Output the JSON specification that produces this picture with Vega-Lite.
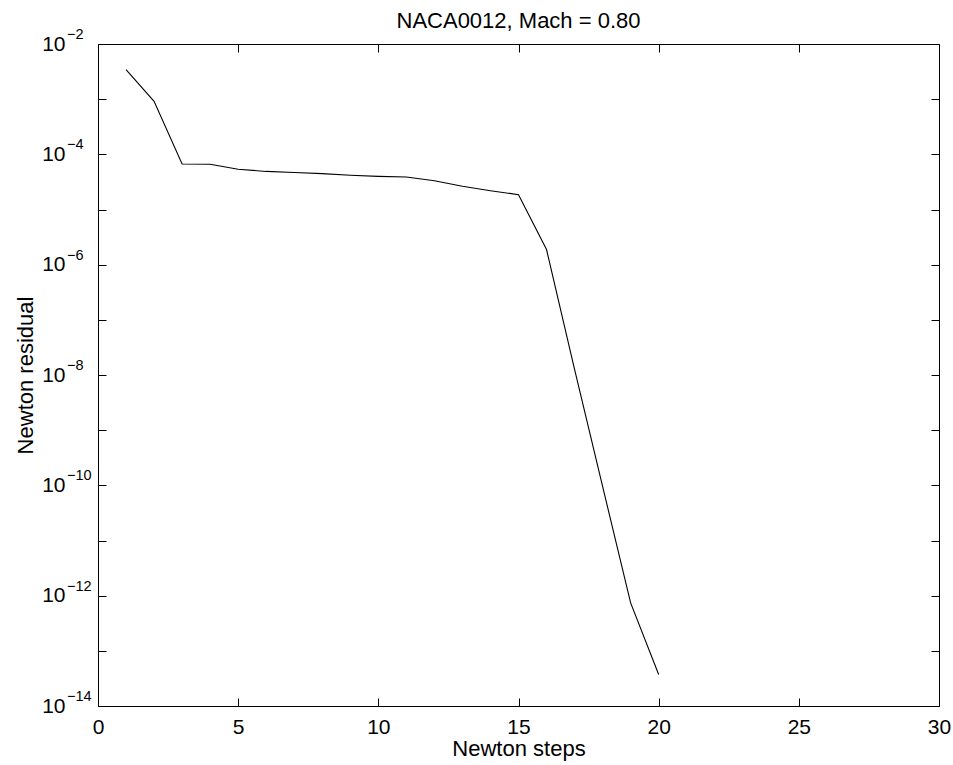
{
  "$schema": "https://vega.github.io/schema/vega-lite/v6.json",
  "width": 841,
  "height": 662,
  "autosize": "none",
  "padding": {"left": 98, "top": 44, "right": 14, "bottom": 59},
  "background": "white",
  "config": {
    "font": "Liberation Sans",
    "view": {"stroke": null},
    "axis": {
      "grid": false,
      "domainColor": "black",
      "domainWidth": 1,
      "tickColor": "black",
      "tickWidth": 1,
      "tickSize": -8,
      "labelColor": "black",
      "labelFont": "Liberation Sans",
      "labelFontSize": 21,
      "titleColor": "black",
      "titleFont": "Liberation Sans",
      "titleFontSize": 22,
      "titleFontWeight": "normal"
    }
  },
  "title": {
    "text": "NACA0012, Mach = 0.80",
    "fontSize": 22,
    "fontWeight": "normal",
    "font": "Liberation Sans",
    "color": "black",
    "offset": -6
  },
  "datasets": {
    "residuals": [
      {"step": 1, "residual": 3.42e-3},
      {"step": 2, "residual": 9.12e-4},
      {"step": 3, "residual": 6.70e-5},
      {"step": 4, "residual": 6.61e-5},
      {"step": 5, "residual": 5.37e-5},
      {"step": 6, "residual": 4.90e-5},
      {"step": 7, "residual": 4.68e-5},
      {"step": 8, "residual": 4.47e-5},
      {"step": 9, "residual": 4.17e-5},
      {"step": 10, "residual": 3.98e-5},
      {"step": 11, "residual": 3.89e-5},
      {"step": 12, "residual": 3.31e-5},
      {"step": 13, "residual": 2.63e-5},
      {"step": 14, "residual": 2.19e-5},
      {"step": 15, "residual": 1.86e-5},
      {"step": 16, "residual": 1.88e-6},
      {"step": 17, "residual": 1.26e-8},
      {"step": 18, "residual": 9.55e-11},
      {"step": 19, "residual": 7.41e-13},
      {"step": 20, "residual": 3.72e-14}
    ],
    "exponents": [
      {"value": 1e-2, "exponent": "−2"},
      {"value": 1e-4, "exponent": "−4"},
      {"value": 1e-6, "exponent": "−6"},
      {"value": 1e-8, "exponent": "−8"},
      {"value": 1e-10, "exponent": "−10"},
      {"value": 1e-12, "exponent": "−12"},
      {"value": 1e-14, "exponent": "−14"}
    ]
  },
  "layer": [
    {
      "data": {"name": "residuals"},
      "mark": {"type": "line", "color": "black", "strokeWidth": 1.1},
      "encoding": {
        "x": {
          "field": "step",
          "type": "quantitative",
          "scale": {"domain": [0, 30], "nice": false, "zero": false},
          "axis": {
            "orient": "bottom",
            "values": [0, 5, 10, 15, 20, 25, 30],
            "labelPadding": 18,
            "labelFlush": false,
            "title": "Newton steps",
            "titlePadding": 1
          }
        },
        "y": {
          "field": "residual",
          "type": "quantitative",
          "scale": {"type": "log", "domain": [1e-14, 1e-2], "nice": false},
          "axis": {
            "orient": "left",
            "values": [1e-14, 1e-13, 1e-12, 1e-11, 1e-10, 1e-9, 1e-8, 1e-7, 1e-6, 1e-5, 1e-4, 1e-3, 1e-2],
            "labelExpr": "round(log(datum.value) / LN10) % 2 == 0 ? '10' : ''",
            "labelPadding": 41,
            "labelFlush": false,
            "labelOverlap": false,
            "title": "Newton residual",
            "titlePadding": 4
          }
        }
      }
    },
    {
      "data": {"name": "exponents"},
      "mark": {
        "type": "text",
        "align": "left",
        "baseline": "middle",
        "dx": -31,
        "dy": -9,
        "fontSize": 14.5,
        "font": "Liberation Sans",
        "color": "black"
      },
      "encoding": {
        "x": {
          "datum": 0,
          "type": "quantitative",
          "axis": {
            "orient": "top",
            "values": [0, 5, 10, 15, 20, 25, 30],
            "labels": false,
            "title": null
          }
        },
        "y": {
          "field": "value",
          "type": "quantitative",
          "axis": {
            "orient": "right",
            "values": [1e-14, 1e-13, 1e-12, 1e-11, 1e-10, 1e-9, 1e-8, 1e-7, 1e-6, 1e-5, 1e-4, 1e-3, 1e-2],
            "labels": false,
            "title": null
          }
        },
        "text": {"field": "exponent"}
      }
    }
  ],
  "resolve": {"axis": {"x": "independent", "y": "independent"}}
}
